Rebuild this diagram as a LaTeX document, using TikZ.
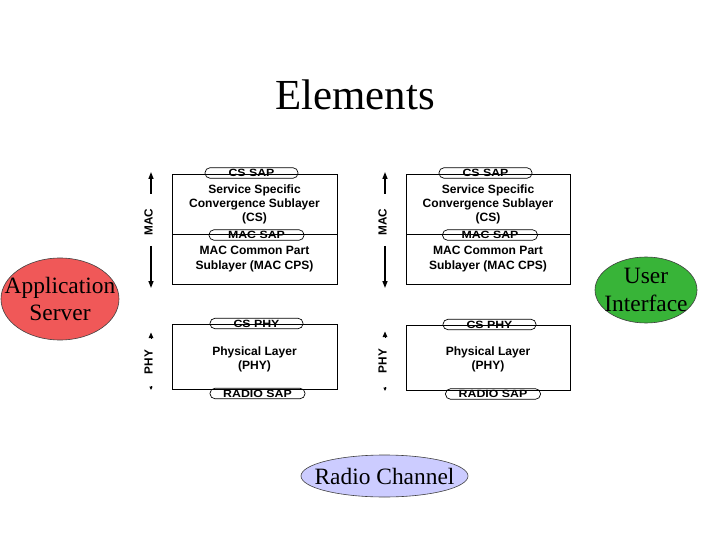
\documentclass[tikz,border=0pt]{standalone}
\usepackage{fontspec}
\setmainfont{Liberation Serif}
\newfontfamily\arial{Liberation Sans}
\newfontfamily\arialw[FakeStretch=1.18]{Liberation Sans}
\usetikzlibrary{arrows.meta,shapes.geometric}
\definecolor{appred}{RGB}{240,88,88}
\definecolor{uigreen}{RGB}{56,180,56}
\definecolor{radiolav}{RGB}{204,204,255}
\begin{document}
\begin{tikzpicture}[x=1bp,y=-1bp,
  layer/.style={draw=black, line width=0.8bp},
  pill/.style={draw=black, line width=0.7bp, rounded corners=5bp, minimum height=10.5bp, inner sep=0pt},
  pilltxt/.style={font=\arialw\bfseries\fontsize{10.5}{12}\selectfont, inner sep=0pt},
  boxtxt/.style={font=\arial\bfseries\fontsize{12.1}{14.2}\selectfont, align=center, inner sep=0pt},
  side/.style={font=\arial\bfseries\fontsize{11.8}{12}\selectfont, rotate=90, inner sep=0pt},
  arr/.style={-{Triangle[width=5bp,length=7bp]}, line width=1.5bp},
  tipup/.style={-{Triangle[width=4.5bp,length=5.5bp]}, line width=1bp},
  tipdn/.style={-{Triangle[width=3bp,length=3.5bp]}, line width=1bp},
  blob/.style={ellipse, draw=black!75, line width=0.6bp, inner sep=0pt},
  blobtxt/.style={font=\fontsize{23.5}{28}\selectfont, align=center, inner sep=0pt}
]
\useasboundingbox[fill=white] (0,0) rectangle (720,540);

% title
\node[font=\fontsize{43}{50}\selectfont, inner sep=0pt] (title) at (355,95) {Elements};

% ===== left stack =====
\draw[layer] (172,174) rectangle (337,284);
\draw[layer] (172,234) -- (337,234);
\draw[layer] (172,324) rectangle (337,389);
\node[pill, minimum width=93bp] (cssapL) at (251.5,173) {};
\node[pilltxt] at (cssapL) {CS SAP};
\node[boxtxt] (csL) at (254.5,204.5) {Service Specific\\Convergence Sublayer\\(CS)};
\node[pill, minimum width=95bp] (macsapL) at (256.5,235) {};
\node[pilltxt] at (macsapL) {MAC SAP};
\node[boxtxt] (cpsL) at (254.5,259) {MAC Common Part\\Sublayer (MAC CPS)};
\node[pill, minimum width=93bp] (csphyL) at (256.5,323.5) {};
\node[pilltxt] at (csphyL) {CS PHY};
\node[boxtxt] (phyL) at (254.5,359.5) {Physical Layer\\(PHY)};
\node[pill, minimum width=95bp] (radioL) at (257.5,393.5) {};
\node[pilltxt] at (radioL) {RADIO SAP};

\node[side] (macL) at (148.5,222) {MAC};
\coordinate (macLa) at (151,194);
\coordinate (macLb) at (151,172);
\coordinate (macLc) at (151,246);
\coordinate (macLd) at (151,288);
\draw[arr] (macLa) -- (macLb);
\draw[arr] (macLc) -- (macLd);
\node[side] (phyLt) at (148.5,362) {PHY};
\coordinate (phyLa) at (151,338.5);
\coordinate (phyLb) at (151,332.5);
\coordinate (phyLc) at (151,386);
\coordinate (phyLd) at (151,390);
\draw[tipup] (phyLa) -- (phyLb);
\draw[tipdn] (phyLc) -- (phyLd);

% ===== right stack =====
\draw[layer] (406,174) rectangle (570,284);
\draw[layer] (406,234) -- (570,234);
\draw[layer] (406,325) rectangle (570,390);
\node[pill, minimum width=93bp] (cssapR) at (485.5,173) {};
\node[pilltxt] at (cssapR) {CS SAP};
\node[boxtxt] (csR) at (488,204.5) {Service Specific\\Convergence Sublayer\\(CS)};
\node[pill, minimum width=95bp] (macsapR) at (490,235) {};
\node[pilltxt] at (macsapR) {MAC SAP};
\node[boxtxt] (cpsR) at (488,259) {MAC Common Part\\Sublayer (MAC CPS)};
\node[pill, minimum width=93bp] (csphyR) at (489.5,324.5) {};
\node[pilltxt] at (csphyR) {CS PHY};
\node[boxtxt] (phyR) at (488,359.5) {Physical Layer\\(PHY)};
\node[pill, minimum width=95bp] (radioR) at (493,394) {};
\node[pilltxt] at (radioR) {RADIO SAP};

\node[side] (macR) at (382.5,222) {MAC};
\coordinate (macRa) at (385,194);
\coordinate (macRb) at (385,172);
\coordinate (macRc) at (385,246);
\coordinate (macRd) at (385,288);
\draw[arr] (macRa) -- (macRb);
\draw[arr] (macRc) -- (macRd);
\node[side] (phyRt) at (382.5,361) {PHY};
\coordinate (phyRa) at (385,337.5);
\coordinate (phyRb) at (385,331.5);
\coordinate (phyRc) at (385,387);
\coordinate (phyRd) at (385,391);
\draw[tipup] (phyRa) -- (phyRb);
\draw[tipdn] (phyRc) -- (phyRd);

% ===== ellipses =====
\node[blob, fill=appred, minimum width=118bp, minimum height=82bp] (app) at (60,299) {};
\node[blobtxt] at (app) {Application\\Server};
\node[blob, fill=uigreen, minimum width=102bp, minimum height=66bp] (ui) at (646,290) {};
\node[blobtxt] at (ui) {User\\Interface};
\node[blob, fill=radiolav, minimum width=167bp, minimum height=42bp] (radio) at (384.5,476) {};
\node[blobtxt] at (radio) {Radio Channel};
\end{tikzpicture}
\end{document}
